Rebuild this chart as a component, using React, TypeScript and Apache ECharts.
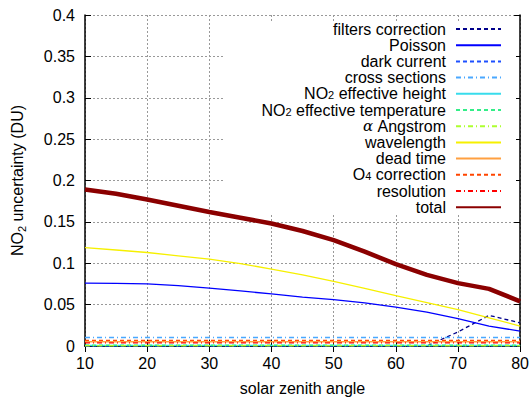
import React, { useEffect, useRef } from "react";
import * as echarts from "echarts";

const angles = [10, 15, 20, 25, 30, 35, 40, 45, 50, 55, 60, 65, 70, 75, 80];
const filtersCorrection = [0, 0, 0, 0, 0, 0, 0, 0, 0, 0, 0, 0, 0.017, 0.037, 0.028];
const poisson = [0.076, 0.0758, 0.075, 0.073, 0.07, 0.0665, 0.063, 0.059, 0.056, 0.052, 0.047, 0.041, 0.033, 0.024, 0.018];
const darkCurrent = [0.0002, 0.0002, 0.0002, 0.0002, 0.0002, 0.0002, 0.0002, 0.0002, 0.0002, 0.0002, 0.0002, 0.0002, 0.0002, 0.0002, 0.0002];
const crossSections = [0.0103, 0.0103, 0.0103, 0.0103, 0.0103, 0.0103, 0.0103, 0.0103, 0.0103, 0.0103, 0.0103, 0.0103, 0.0103, 0.0103, 0.0103];
const effHeight = [0.0006, 0.0006, 0.0006, 0.0006, 0.0006, 0.0006, 0.0006, 0.0006, 0.0006, 0.0006, 0.0006, 0.0006, 0.0006, 0.0006, 0.0006];
const effTemperature = [0.0009, 0.0009, 0.0009, 0.0009, 0.0009, 0.0009, 0.0009, 0.0009, 0.0009, 0.0009, 0.0009, 0.0009, 0.0009, 0.0009, 0.0009];
const angstrom = [0.0003, 0.0003, 0.0003, 0.0003, 0.0003, 0.0003, 0.0003, 0.0003, 0.0003, 0.0003, 0.0003, 0.0003, 0.0003, 0.0003, 0.0003];
const wavelength = [0.119, 0.116, 0.113, 0.109, 0.105, 0.0995, 0.093, 0.086, 0.078, 0.0695, 0.061, 0.0525, 0.044, 0.034, 0.024];
const deadTime = [0.0052, 0.0052, 0.0052, 0.0052, 0.0052, 0.0052, 0.0052, 0.0052, 0.0052, 0.0052, 0.0052, 0.0052, 0.0052, 0.0052, 0.0052];
const o4Correction = [0.0068, 0.0068, 0.0068, 0.0068, 0.0068, 0.0068, 0.0068, 0.0068, 0.0068, 0.0068, 0.0068, 0.0068, 0.0068, 0.0068, 0.0068];
const resolution = [0.0037, 0.0037, 0.0037, 0.0037, 0.0037, 0.0037, 0.0037, 0.0037, 0.0037, 0.0037, 0.0037, 0.0037, 0.0037, 0.0037, 0.0037];
const total = [0.189, 0.184, 0.177, 0.1695, 0.162, 0.155, 0.148, 0.139, 0.128, 0.114, 0.099, 0.086, 0.076, 0.069, 0.054];

const xTicks = { min: 10, max: 80, interval: 10 };
const yTicks = { min: 0, max: 0.4, interval: 0.05 };

const FONT = "Liberation Sans";

type Def = { name: string; values: number[]; color: string; width: number; dash: any };

const defs: Def[] = [
  { name: "filters correction", values: filtersCorrection, color: "#00008b", width: 1.3, dash: [4, 3] },
  { name: "Poisson", values: poisson, color: "#0000ff", width: 1.3, dash: "solid" },
  { name: "dark current", values: darkCurrent, color: "#1e50ff", width: 1.3, dash: [4, 3] },
  { name: "cross sections", values: crossSections, color: "#4aa8ff", width: 1.3, dash: [5, 3, 1, 3] },
  { name: "NO2 effective height", values: effHeight, color: "#38dcec", width: 1.3, dash: "solid" },
  { name: "NO2 effective temperature", values: effTemperature, color: "#33ee88", width: 1.3, dash: [4, 3] },
  { name: "α Angstrom", values: angstrom, color: "#adff2f", width: 1.3, dash: [5, 3, 1, 3] },
  { name: "wavelength", values: wavelength, color: "#f6f000", width: 1.3, dash: "solid" },
  { name: "dead time", values: deadTime, color: "#ffa040", width: 1.5, dash: "solid" },
  { name: "O4 correction", values: o4Correction, color: "#ff4500", width: 1.3, dash: [4, 3] },
  { name: "resolution", values: resolution, color: "#ff0000", width: 1.3, dash: [5, 3, 1, 3] },
  { name: "total", values: total, color: "#8b0000", width: 4.5, dash: "solid" },
];

function legendLabel(name: string): string {
  if (name.startsWith("NO2")) return "NO{sub|2}" + name.slice(3);
  if (name.startsWith("O4")) return "O{sub|4}" + name.slice(2);
  if (name.startsWith("α")) return "{it|α}" + name.slice(1);
  return name;
}

export default function App() {
  const ref = useRef<HTMLDivElement>(null);
  useEffect(() => {
    if (!ref.current) return;
    const chart = echarts.init(ref.current, null, { renderer: "svg" });
    const axisLine = { show: true, lineStyle: { color: "#000", width: 1.5 } };
    const tick = { show: true, inside: true, length: 6, lineStyle: { color: "#000", width: 1 } };
    const grid = { show: true, lineStyle: { color: "#999", type: [2, 2], width: 1 } };
    const labelStyle = { fontFamily: FONT, fontSize: 16, color: "#000" };
    chart.setOption({
      animation: false,
      backgroundColor: "#fff",
      grid: { left: 85, right: 10, top: 15, bottom: 49 },
      xAxis: [
        {
          type: "value", ...xTicks, position: "bottom",
          axisLine, axisTick: tick, splitLine: grid,
          axisLabel: { ...labelStyle, margin: 9 },
          name: "solar zenith angle", nameLocation: "middle", nameGap: 34,
          nameTextStyle: { fontFamily: FONT, fontSize: 16, color: "#000" },
        },
        {
          type: "value", ...xTicks, position: "top",
          axisLine, axisTick: tick, splitLine: { show: false }, axisLabel: { show: false },
        },
      ],
      yAxis: [
        {
          type: "value", ...yTicks, position: "left",
          axisLine, axisTick: tick, splitLine: grid,
          axisLabel: { ...labelStyle, margin: 10, formatter: (v: number) => String(+v.toFixed(2)) },
          name: "NO{sub|2} uncertainty (DU)", nameLocation: "middle", nameGap: 58,
          nameTextStyle: {
            fontFamily: FONT, fontSize: 16, color: "#000",
            rich: { sub: { fontFamily: FONT, fontSize: 11, color: "#000", padding: [8, 0, 0, 0] } },
          },
        },
        {
          type: "value", ...yTicks, position: "right",
          axisLine, axisTick: tick, splitLine: { show: false }, axisLabel: { show: false },
        },
      ],
      graphic: [
        { type: "rect", z: 1, shape: { x: 224, y: 21, width: 292, height: 193 }, style: { fill: "#fff" } },
      ],
      legend: {
        orient: "vertical", align: "right", right: 30, top: 21, padding: 0,
        itemWidth: 45, itemHeight: 14, itemGap: 0.2, selectedMode: false,
        data: defs.map((d) => d.name),
        formatter: legendLabel,
        itemStyle: { opacity: 0, borderWidth: 0, color: "transparent" },
        textStyle: {
          fontFamily: FONT, fontSize: 16, lineHeight: 14, color: "#000", padding: [0, 5, 0, 0],
          rich: {
            sub: { fontFamily: FONT, fontSize: 11, lineHeight: 6, verticalAlign: "bottom", color: "#000" },
            it: { fontFamily: "DejaVu Serif", fontStyle: "italic", fontSize: 15, lineHeight: 14, color: "#000" },
          },
        },
      },
      series: defs.map((d) => ({
        name: d.name,
        type: "line",
        symbol: "none",
        xAxisIndex: 0,
        yAxisIndex: 0,
        data: angles.map((a, i) => [a, d.values[i]]),
        lineStyle: { color: d.color, width: d.width, type: d.dash },
        itemStyle: { color: d.color },
        emphasis: { disabled: true },
      })),
    });
    return () => chart.dispose();
  }, []);
  return <div ref={ref} style={{ position: "fixed", left: 0, top: 0, width: 532, height: 401 }} />;
}
